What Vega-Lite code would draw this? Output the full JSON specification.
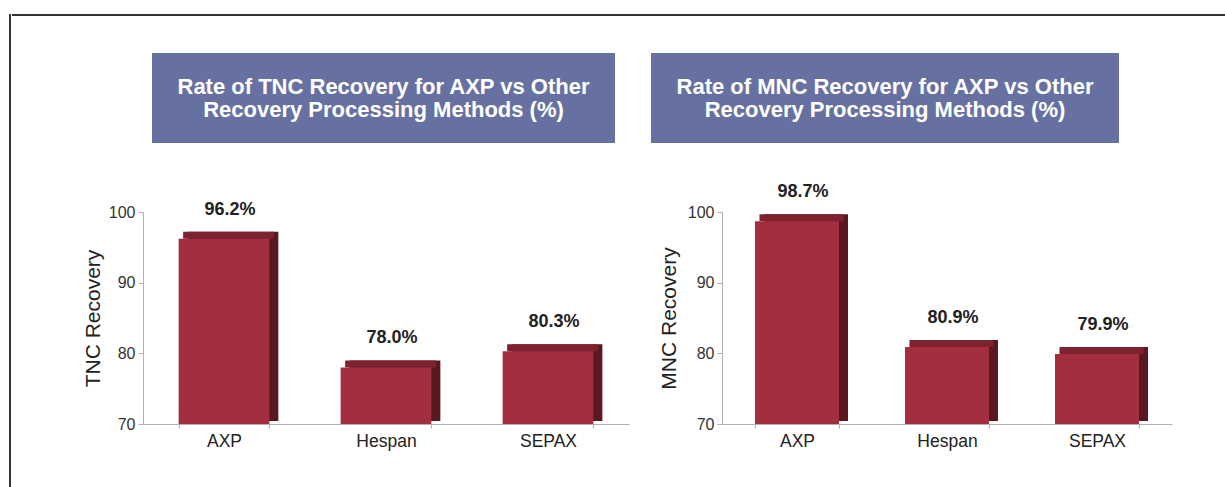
{
  "$schema": "https://vega.github.io/schema/vega-lite/v6.json",
  "padding": {"left": 9, "top": 14, "right": 0, "bottom": 0},
  "background": "white",
  "config": {
    "view": {"stroke": null},
    "font": "Liberation Sans",
    "axis": {"labelFont": "Liberation Sans", "titleFont": "Liberation Sans", "grid": false}
  },
  "datasets": {
    "tnc": [
      {"method": "AXP", "value": 96.2, "label": "96.2%"},
      {"method": "Hespan", "value": 78.0, "label": "78.0%"},
      {"method": "SEPAX", "value": 80.3, "label": "80.3%"}
    ],
    "mnc": [
      {"method": "AXP", "value": 98.7, "label": "98.7%"},
      {"method": "Hespan", "value": 80.9, "label": "80.9%"},
      {"method": "SEPAX", "value": 79.9, "label": "79.9%"}
    ],
    "none": []
  },
  "spacing": 0,
  "hconcat": [
    {"width": 0.01, "height": 472, "data": {"name": "none"}, "mark": "rect", "view": {"stroke": "#333333", "strokeWidth": 2}},
    {
      "spacing": 36,
      "vconcat": [
        {"width": 1212, "height": 0.01, "data": {"name": "none"}, "mark": "rect", "view": {"stroke": "#333333", "strokeWidth": 2}},
        {
          "spacing": 40,
          "vconcat": [
            {
              "spacing": 0,
              "hconcat": [
                {"width": 139, "height": 90, "data": {"name": "none"}, "mark": "rect"},
                {
                  "width": 463, "height": 90,
                  "data": {"values": [{"text": "Rate of TNC Recovery for AXP vs Other\nRecovery Processing Methods (%)"}]},
                  "mark": {"type": "text", "lineBreak": "\n", "font": "Liberation Sans", "fontWeight": "bold", "fontSize": 22, "lineHeight": 23, "color": "white", "align": "center", "baseline": "middle", "dy": -11.5},
                  "encoding": {"text": {"field": "text"}},
                  "view": {"fill": "#6771a1", "stroke": null}
                },
                {"width": 36, "height": 90, "data": {"name": "none"}, "mark": "rect"},
                {
                  "width": 468, "height": 90,
                  "data": {"values": [{"text": "Rate of MNC Recovery for AXP vs Other\nRecovery Processing Methods (%)"}]},
                  "mark": {"type": "text", "lineBreak": "\n", "font": "Liberation Sans", "fontWeight": "bold", "fontSize": 22, "lineHeight": 23, "color": "white", "align": "center", "baseline": "middle", "dy": -11.5},
                  "encoding": {"text": {"field": "text"}},
                  "view": {"fill": "#6771a1", "stroke": null}
                }
              ]
            },
            {
              "spacing": 0,
              "hconcat": [
                {"width": 69, "height": 10, "data": {"name": "none"}, "mark": "rect"},
                {
                  "width": 486, "height": 212,
                  "data": {"name": "tnc"},
                  "encoding": {
                    "x": {"field": "method", "type": "nominal", "sort": null,
                      "scale": {"paddingInner": 0.44, "paddingOuter": 0.22},
                      "axis": {"title": null, "labelAngle": 0, "tickBand": "extent", "domainColor": "#b0b0b0", "tickColor": "#b0b0b0", "tickSize": 4, "labelFontSize": 17.5, "labelColor": "#222222", "labelPadding": 4}}
                  },
                  "layer": [
                    {
                      "mark": {"type": "bar", "color": "#5a1821", "xOffset": 9, "yOffset": -7, "y2Offset": -3},
                      "encoding": {
                        "y": {"field": "value", "type": "quantitative", "scale": {"domain": [70, 100]},
                          "axis": {"title": "TNC Recovery", "values": [70, 80, 90, 100], "domainColor": "#b0b0b0", "tickColor": "#b0b0b0", "tickSize": 5, "labelPadding": 3, "labelFontSize": 16, "labelColor": "#333333", "titleFontSize": 21, "titleFontWeight": "normal", "titleColor": "#222222", "titlePadding": 5}},
                        "y2": {"datum": 70}
                      }
                    },
                    {
                      "mark": {"type": "bar", "color": "#7d222f", "xOffset": 4.5, "yOffset": -7},
                      "encoding": {"y": {"field": "value", "type": "quantitative"}, "y2": {"field": "value"}}
                    },
                    {
                      "mark": {"type": "bar", "color": "#a32e3f"},
                      "encoding": {"y": {"field": "value", "type": "quantitative"}, "y2": {"datum": 70}}
                    },
                    {
                      "mark": {"type": "text", "font": "Liberation Sans", "fontWeight": "bold", "fontSize": 18, "color": "#222222", "baseline": "alphabetic", "dy": -24, "dx": 6},
                      "encoding": {"y": {"field": "value", "type": "quantitative"}, "text": {"field": "label"}}
                    }
                  ]
                },
                {"width": 29, "height": 10, "data": {"name": "none"}, "mark": "rect"},
                {
                  "width": 450, "height": 212,
                  "data": {"name": "mnc"},
                  "encoding": {
                    "x": {"field": "method", "type": "nominal", "sort": null,
                      "scale": {"paddingInner": 0.44, "paddingOuter": 0.22},
                      "axis": {"title": null, "labelAngle": 0, "tickBand": "extent", "domainColor": "#b0b0b0", "tickColor": "#b0b0b0", "tickSize": 4, "labelFontSize": 17.5, "labelColor": "#222222", "labelPadding": 4}}
                  },
                  "layer": [
                    {
                      "mark": {"type": "bar", "color": "#5a1821", "xOffset": 9, "yOffset": -7, "y2Offset": -3},
                      "encoding": {
                        "y": {"field": "value", "type": "quantitative", "scale": {"domain": [70, 100]},
                          "axis": {"title": "MNC Recovery", "values": [70, 80, 90, 100], "domainColor": "#b0b0b0", "tickColor": "#b0b0b0", "tickSize": 5, "labelPadding": 3, "labelFontSize": 16, "labelColor": "#333333", "titleFontSize": 21, "titleFontWeight": "normal", "titleColor": "#222222", "titlePadding": 8}},
                        "y2": {"datum": 70}
                      }
                    },
                    {
                      "mark": {"type": "bar", "color": "#7d222f", "xOffset": 4.5, "yOffset": -7},
                      "encoding": {"y": {"field": "value", "type": "quantitative"}, "y2": {"field": "value"}}
                    },
                    {
                      "mark": {"type": "bar", "color": "#a32e3f"},
                      "encoding": {"y": {"field": "value", "type": "quantitative"}, "y2": {"datum": 70}}
                    },
                    {
                      "mark": {"type": "text", "font": "Liberation Sans", "fontWeight": "bold", "fontSize": 18, "color": "#222222", "baseline": "alphabetic", "dy": -24, "dx": 6},
                      "encoding": {"y": {"field": "value", "type": "quantitative"}, "text": {"field": "label"}}
                    }
                  ]
                }
              ]
            }
          ]
        }
      ]
    }
  ]
}
